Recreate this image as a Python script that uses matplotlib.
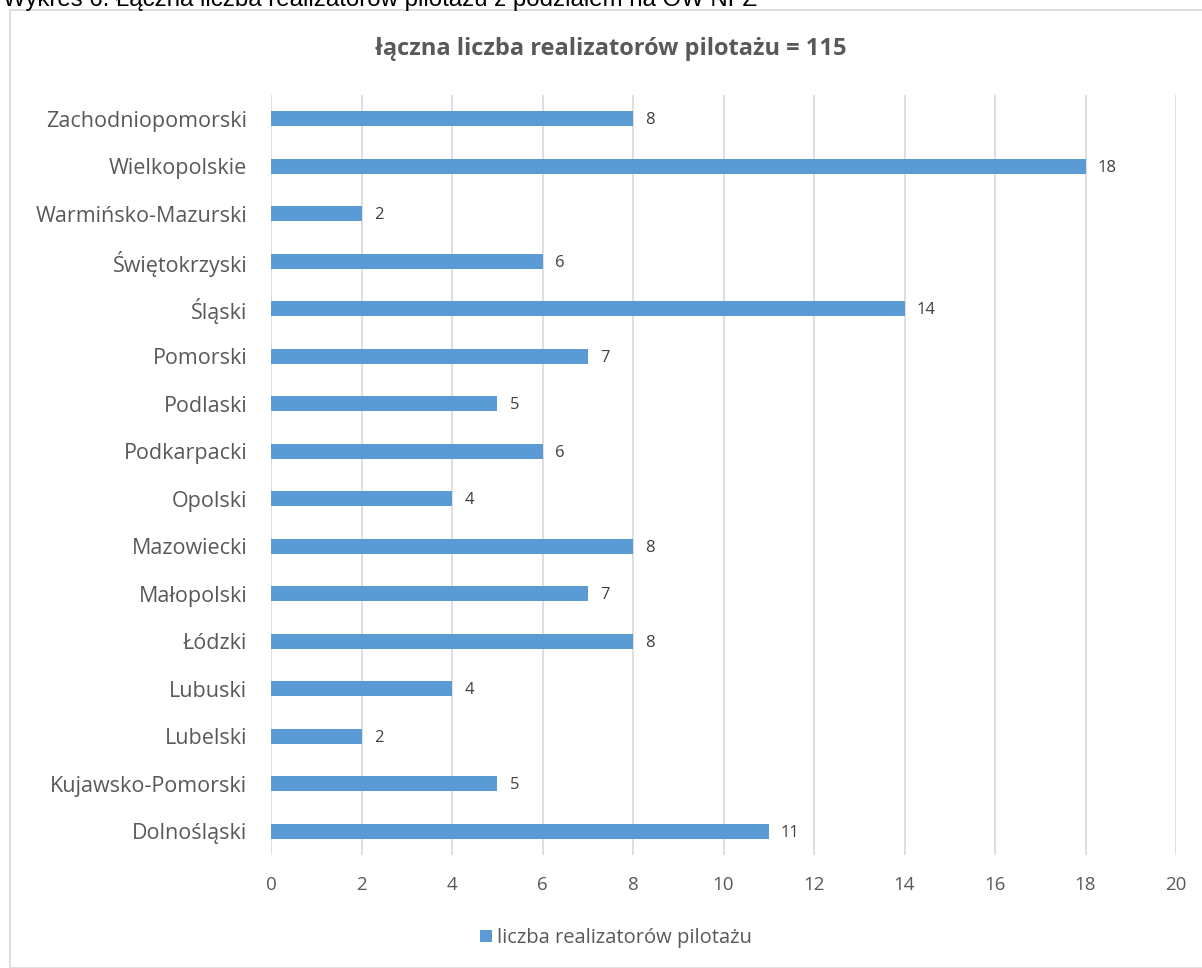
import matplotlib.pyplot as plt
from matplotlib.patches import Rectangle

regions = ['Dolnośląski', 'Kujawsko-Pomorski', 'Lubelski', 'Lubuski', 'Łódzki',
           'Małopolski', 'Mazowiecki', 'Opolski', 'Podkarpacki', 'Podlaski',
           'Pomorski', 'Śląski', 'Świętokrzyski', 'Warmińsko-Mazurski',
           'Wielkopolskie', 'Zachodniopomorski']
counts = [11, 5, 2, 4, 8, 7, 8, 4, 6, 5, 7, 14, 6, 2, 18, 8]
x_ticks = [0, 2, 4, 6, 8, 10, 12, 14, 16, 18, 20]

plt.rcParams['font.family'] = ['Open Sans', 'DejaVu Sans']
grey = '#595959'
blue = '#5B9BD5'

fig = plt.figure(figsize=(12.02, 9.68), dpi=100)

# chart frame
fig.patches.append(Rectangle((10 / 1202, 0), 1.2, 958 / 968, transform=fig.transFigure,
                             fill=False, edgecolor='#D9D9D9', linewidth=1.2))

# caption above the frame, partly clipped by the top edge
fig.text(3 / 1202, 1 - 6 / 968, 'Wykres 6. Łączna liczba realizatorów pilotażu z podziałem na OW NFZ',
         family=['Liberation Sans', 'DejaVu Sans'], fontsize=17.3, color='black', ha='left', va='baseline')

ax = fig.add_axes([271 / 1202, 1 - 855 / 968, 905 / 1202, 760 / 968])
bars = ax.barh(range(len(regions)), counts, height=0.32, color=blue, zorder=3)
for i, v in enumerate(counts):
    ax.text(v + 0.27, i - 0.03, str(v), va='center', ha='left', fontsize=12, color='#404040')

ax.set_xlim(0, 20)
ax.set_ylim(-0.5, len(regions) - 0.5)
ax.set_xticks(x_ticks)
ax.set_yticks(range(len(regions)))
ax.set_yticklabels(regions)
ax.tick_params(axis='x', length=0, pad=15, labelsize=13.5, labelcolor=grey)
ax.tick_params(axis='y', length=0, pad=17, labelsize=15.5, labelcolor=grey)
ax.grid(axis='x', color='#D9D9D9', linewidth=1.2, zorder=0)
for s in ax.spines.values():
    s.set_visible(False)

ax.set_title('łączna liczba realizatorów pilotażu = 115', fontsize=17, fontweight='bold',
             color=grey, pad=29, x=(611 - 271) / 905)

fig.legend([bars], ['liczba realizatorów pilotażu'], loc='center', bbox_to_anchor=(616 / 1202, 1 - 938 / 968),
           frameon=False, fontsize=14.5, labelcolor=grey, handlelength=0.6, handleheight=0.6, handletextpad=0.25)

fig.savefig('out.png', dpi=100)
